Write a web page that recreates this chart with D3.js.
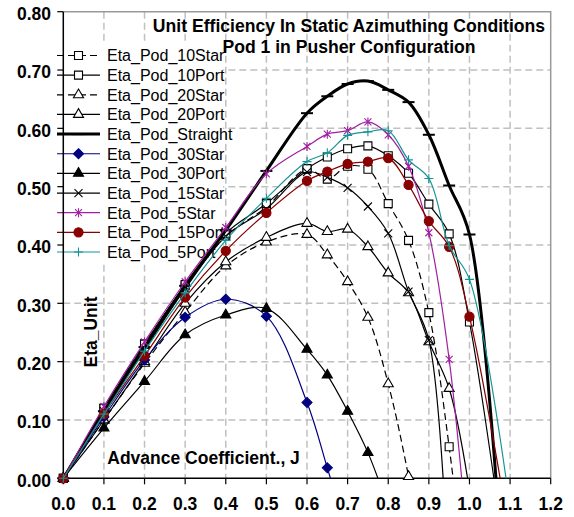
<!DOCTYPE html>
<html>
<head>
<meta charset="utf-8">
<script src="https://cdn.jsdelivr.net/npm/d3@7"></script>
<style>
  body { margin: 0; background: #fff; }
  text { font-family: "Liberation Sans", Arial, sans-serif; }
</style>
</head>
<body>
<div id="chart"></div>
<script>
// advance coefficient values where the points were measured
const jValues = [0, 0.1, 0.2, 0.3, 0.4, 0.5, 0.6, 0.65, 0.7, 0.75, 0.8, 0.85, 0.9, 0.95, 1.0, 1.1];

// unit efficiency per series (last value of each runs below the axis and is clipped)
const pod10Star   = [0, 0.12, 0.23, 0.33, 0.415, 0.465, 0.53, 0.513, 0.535, 0.53, 0.471, 0.408, 0.284, 0.054, -0.25];
const pod10Port   = [0, 0.12, 0.23, 0.332, 0.42, 0.471, 0.531, 0.551, 0.565, 0.570, 0.553, 0.523, 0.470, 0.419, 0.268, -0.2];
const pod20Star   = [0, 0.10, 0.197, 0.285, 0.364, 0.405, 0.418, 0.383, 0.337, 0.276, 0.162, 0.003, -0.2];
const pod20Port   = [0, 0.10, 0.20, 0.30, 0.371, 0.413, 0.437, 0.423, 0.427, 0.397, 0.352, 0.318, 0.234, 0.154, -0.02];
const podStraight = [0, 0.115, 0.225, 0.33, 0.425, 0.527, 0.626, 0.655, 0.676, 0.681, 0.666, 0.645, 0.589, 0.502, 0.418, -0.35];
const pod30Star   = [0, 0.105, 0.203, 0.276, 0.307, 0.278, 0.13, 0.018, -0.1];
const pod30Port   = [0, 0.086, 0.166, 0.246, 0.28, 0.291, 0.221, 0.177, 0.115, 0.044, -0.05];
const pod15Star   = [0, 0.115, 0.22, 0.325, 0.415, 0.462, 0.525, 0.516, 0.498, 0.466, 0.42, 0.32, 0.237, -0.2];
const pod5Star    = [0, 0.123, 0.234, 0.337, 0.43, 0.522, 0.569, 0.59, 0.596, 0.611, 0.589, 0.535, 0.421, 0.204, -0.15];
const pod15Port   = [0, 0.11, 0.21, 0.31, 0.39, 0.455, 0.51, 0.526, 0.539, 0.543, 0.549, 0.503, 0.441, 0.397, 0.277, -0.1];
const pod5Port    = [0, 0.11, 0.218, 0.318, 0.408, 0.48, 0.543, 0.558, 0.588, 0.594, 0.596, 0.546, 0.514, 0.399, 0.341, -0.05];

const seriesNames = ["Eta_Pod_10Star", "Eta_Pod_10Port", "Eta_Pod_20Star", "Eta_Pod_20Port",
  "Eta_Pod_Straight", "Eta_Pod_30Star", "Eta_Pod_30Port", "Eta_Pod_15Star",
  "Eta_Pod_5Star", "Eta_Pod_15Port", "Eta_Pod_5Port"];

const xTicks = [0, 0.1, 0.2, 0.3, 0.4, 0.5, 0.6, 0.7, 0.8, 0.9, 1.0, 1.1, 1.2];
const yTicks = [0, 0.1, 0.2, 0.3, 0.4, 0.5, 0.6, 0.7, 0.8];

const titleLines = ["Unit Efficiency In Static Azimuthing Conditions", "Pod 1 in Pusher Configuration"];

// styling per series, same order as the names
const styles = [
  { values: pod10Star,   color: "#000", width: 1.2, dash: "7,4", marker: "square" },
  { values: pod10Port,   color: "#000", width: 1.2, dash: null,  marker: "square" },
  { values: pod20Star,   color: "#000", width: 1.2, dash: "7,4", marker: "triangle" },
  { values: pod20Port,   color: "#000", width: 1.2, dash: null,  marker: "triangle" },
  { values: podStraight, color: "#000", width: 3,   dash: null,  marker: "dash" },
  { values: pod30Star,   color: "#000080", width: 1.2, dash: null, marker: "diamond" },
  { values: pod30Port,   color: "#000", width: 1.2, dash: null,  marker: "filledTriangle" },
  { values: pod15Star,   color: "#000", width: 1.2, dash: null,  marker: "x" },
  { values: pod5Star,    color: "#a020a0", width: 1.2, dash: null, marker: "star" },
  { values: pod15Port,   color: "#880000", width: 1.2, dash: null, marker: "circle" },
  { values: pod5Port,    color: "#149494", width: 1.2, dash: null, marker: "plus" }
];

const W = 574, H = 517;
const plot = { left: 63.3, right: 550.7, top: 11.7, bottom: 478.3 };

const svg = d3.select("#chart").append("svg")
  .attr("width", W)
  .attr("height", H);

const x = d3.scaleLinear().domain([0, 1.2]).range([plot.left, plot.right]);
const y = d3.scaleLinear().domain([0, 0.8]).range([plot.bottom, plot.top]);

svg.append("defs").append("clipPath").attr("id", "plotClip")
  .append("rect")
  .attr("x", plot.left).attr("y", plot.top)
  .attr("width", plot.right - plot.left)
  .attr("height", plot.bottom - plot.top);

// dashed gridlines
svg.append("g").selectAll("line")
  .data(xTicks.filter(d => d > 0 && d < 1.2))
  .join("line")
  .attr("x1", d => x(d)).attr("x2", d => x(d))
  .attr("y1", plot.top).attr("y2", plot.bottom)
  .attr("stroke", "#c0c0c0").attr("stroke-width", 1.5)
  .attr("stroke-dasharray", "7,4");

svg.append("g").selectAll("line")
  .data(yTicks.filter(d => d > 0 && d < 0.8))
  .join("line")
  .attr("x1", plot.left).attr("x2", plot.right)
  .attr("y1", d => y(d)).attr("y2", d => y(d))
  .attr("stroke", "#c0c0c0").attr("stroke-width", 1.5)
  .attr("stroke-dasharray", "7,4");

// top and right border of the plot area
svg.append("path")
  .attr("d", `M${plot.left},${plot.top}H${plot.right}V${plot.bottom}`)
  .attr("fill", "none").attr("stroke", "#999").attr("stroke-width", 1.5);

// marker drawing
function markerPath(type) {
  if (type === "square") return d3.symbol(d3.symbolSquare, 64)();
  if (type === "triangle" || type === "filledTriangle") return d3.symbol(d3.symbolTriangle, 44)();
  if (type === "diamond") return "M0,-5L5,0L0,5L-5,0Z";
  if (type === "circle") return d3.symbol(d3.symbolCircle, 66)();
  if (type === "x") return "M-4,-4L4,4M-4,4L4,-4";
  if (type === "star") return "M-3.5,-3.5L3.5,3.5M-3.5,3.5L3.5,-3.5M0,-4.5L0,4.5";
  if (type === "plus") return "M-4.5,0L4.5,0M0,-4.5L0,4.5";
  if (type === "dash") return "M-6,0L6,0";
  return "";
}

function styleMarker(sel, s) {
  const open = s.marker === "square" || s.marker === "triangle";
  const filled = s.marker === "diamond" || s.marker === "circle" || s.marker === "filledTriangle";
  sel.attr("d", markerPath(s.marker))
    .attr("fill", open ? "#fff" : (filled ? s.color : "none"))
    .attr("stroke", s.color)
    .attr("stroke-width", s.marker === "dash" ? 2 : 1.1);
}

// legend with a white box behind it
const legendY0 = 55.5, legendStep = 19.65;
svg.append("rect")
  .attr("x", 55).attr("y", 44)
  .attr("width", 168).attr("height", 219)
  .attr("fill", "#fff");

const legend = svg.append("g");
seriesNames.forEach((name, i) => {
  const s = styles[i];
  const ly = legendY0 + i * legendStep;
  legend.append("line")
    .attr("x1", 57).attr("x2", 100)
    .attr("y1", ly).attr("y2", ly)
    .attr("stroke", s.color).attr("stroke-width", s.width)
    .attr("stroke-dasharray", s.dash);
  legend.append("path")
    .attr("transform", `translate(78.5,${ly})`)
    .call(styleMarker, s);
  legend.append("text")
    .attr("x", 107).attr("y", ly + 5.8)
    .style("font-size", "16px")
    .text(name);
});

// axes
svg.append("line")
  .attr("x1", plot.left).attr("x2", plot.left)
  .attr("y1", plot.top).attr("y2", plot.bottom)
  .attr("stroke", "#000").attr("stroke-width", 1.5);
svg.append("line")
  .attr("x1", plot.left).attr("x2", plot.right)
  .attr("y1", plot.bottom).attr("y2", plot.bottom)
  .attr("stroke", "#000").attr("stroke-width", 1.5);

svg.append("g").selectAll("line")
  .data(yTicks).join("line")
  .attr("x1", plot.left - 6).attr("x2", plot.left)
  .attr("y1", d => y(d)).attr("y2", d => y(d))
  .attr("stroke", "#000").attr("stroke-width", 1.2);
svg.append("g").selectAll("line")
  .data(xTicks).join("line")
  .attr("x1", d => x(d)).attr("x2", d => x(d))
  .attr("y1", plot.bottom).attr("y2", plot.bottom + 6)
  .attr("stroke", "#000").attr("stroke-width", 1.2);

svg.append("g").selectAll("text")
  .data(yTicks).join("text")
  .attr("x", 51).attr("y", d => y(d) + 8.3)
  .attr("text-anchor", "end")
  .style("font-size", "17.5px").style("font-weight", "bold")
  .text(d => d3.format(".2f")(d));
svg.append("g").selectAll("text")
  .data(xTicks).join("text")
  .attr("x", d => x(d)).attr("y", 510)
  .attr("text-anchor", "middle")
  .style("font-size", "17.5px").style("font-weight", "bold")
  .text(d => d3.format(".1f")(d));

// axis titles sit inside the plot
svg.append("text")
  .attr("transform", "translate(97,332) rotate(-90)")
  .attr("text-anchor", "middle")
  .style("font-size", "17.5px").style("font-weight", "bold")
  .text("Eta_Unit");
svg.append("text")
  .attr("x", 107.3).attr("y", 464)
  .style("font-size", "17.5px").style("font-weight", "bold")
  .text("Advance Coefficient., J");

// series lines and markers
const line = d3.line()
  .x(d => x(d.j))
  .y(d => y(d.v))
  .curve(d3.curveCatmullRom);

const seriesG = svg.append("g");
styles.forEach(s => {
  const pts = s.values.map((v, i) => ({ j: jValues[i], v: v }));
  seriesG.append("path")
    .datum(pts)
    .attr("clip-path", "url(#plotClip)")
    .attr("fill", "none")
    .attr("stroke", s.color)
    .attr("stroke-width", s.width)
    .attr("stroke-dasharray", s.dash)
    .attr("stroke-linejoin", "round")
    .attr("d", line);
  seriesG.append("g").selectAll("path")
    .data(pts.filter(d => d.v >= 0))
    .join("path")
    .attr("transform", d => `translate(${x(d.j)},${y(d.v)})`)
    .call(styleMarker, s);
});

// chart title
svg.append("g").selectAll("text")
  .data(titleLines).join("text")
  .attr("x", 349).attr("y", (d, i) => 31.5 + i * 21.2)
  .attr("text-anchor", "middle")
  .style("font-size", "17.6px").style("font-weight", "bold")
  .text(d => d);
</script>
</body>
</html>
